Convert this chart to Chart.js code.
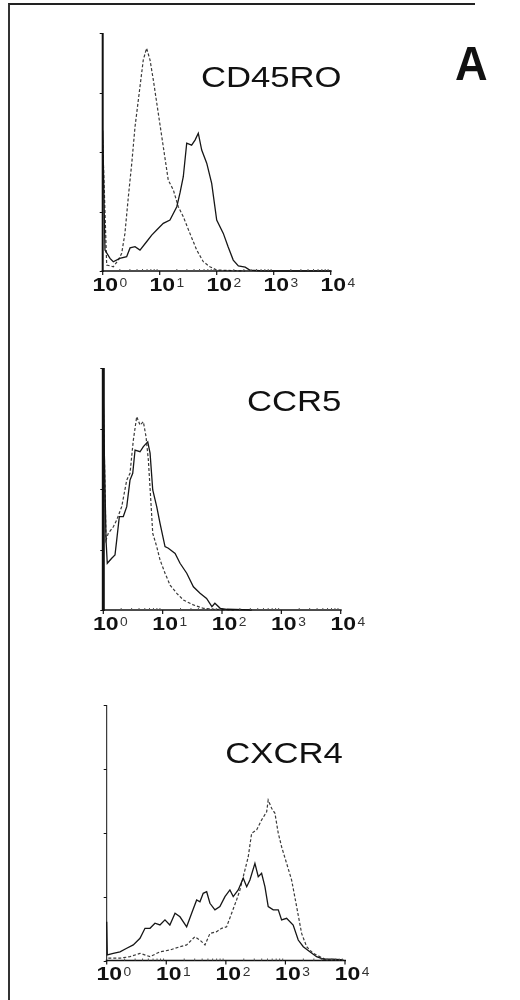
<!DOCTYPE html>
<html>
<head>
<meta charset="utf-8">
<script src="https://cdn.jsdelivr.net/npm/chart.js@4.4.1/dist/chart.umd.min.js"></script>
<style>
  html, body { margin: 0; padding: 0; background: #ffffff; }
  #page { position: relative; width: 520px; height: 1000px; overflow: hidden; background: #fff; }
  #frame { position: absolute; left: 8px; top: 3px; width: 465px; height: 1000px;
           border-top: 2px solid #222; border-left: 2px solid #333; }
  canvas { position: absolute; left: 0; }
</style>
</head>
<body>
<div id="page">
  <div id="frame"></div>
  <canvas id="c1" width="520" height="333" style="top:0px"></canvas>
  <canvas id="c2" width="520" height="333" style="top:333px"></canvas>
  <canvas id="c3" width="520" height="334" style="top:666px"></canvas>
</div>
<script>
// ---------- DATA (x = fluorescence in decades, log10; y = relative cell count, % of axis) ----------
const xTickBase = '10';
const xTickExponents = [0, 1, 2, 3, 4];
const yTickValues = [0, 25, 50, 75, 100];
const panelNames = ['CD45RO', 'CCR5', 'CXCR4'];
const panelLetter = 'A';
const seriesNames = ['Antibody', 'Isotype control'];

// CD45RO
const cd45roAbX = [0, .04, .128, .186, .30, .42, .48, .567, .654, .77, .86, .947, 1.063, 1.18, 1.30, 1.356, 1.414, 1.474, 1.56, 1.62, 1.677, 1.737, 1.825, 1.912, 2.0, 2.116, 2.20, 2.29, 2.38, 2.50, 2.58, 2.76, 3.0, 3.5, 4.0];
const cd45roAbY = [59, 8.8, 5.3, 3.9, 5.3, 6.0, 9.7, 10.2, 8.8, 12.3, 15.1, 17.2, 20.0, 21.4, 27.0, 32.8, 39.6, 53.7, 52.9, 55.0, 57.9, 50.8, 45.3, 36.8, 21.4, 15.8, 10.2, 4.6, 2.1, 1.6, 0.4, 0.1, 0, 0, 0];
const cd45roIsoX = [0, .07, .186, .274, .333, .39, .45, .51, .567, .654, .712, .77, .83, .888, .975, 1.063, 1.15, 1.24, 1.326, 1.414, 1.53, 1.65, 1.765, 1.88, 2.0, 2.5];
const cd45roIsoY = [55, 2.5, 1.8, 4.6, 7.4, 15.8, 31.2, 45.3, 60.6, 77.4, 88.7, 93.6, 88.7, 80.3, 66.3, 52.2, 38.2, 34.0, 27.0, 22.8, 15.8, 8.8, 3.9, 1.8, 0.4, 0];

// CCR5
const ccr5AbX = [0, .046, .067, .142, .197, .226, .27, .337, .395, .45, .496, .535, .619, .675, .749, .788, .833, .90, .956, 1.04, 1.096, 1.21, 1.293, 1.406, 1.518, 1.63, 1.74, 1.83, 1.88, 1.97, 2.08, 2.5];
const ccr5AbY = [87, 28.9, 19.3, 21.4, 22.7, 28.9, 38.6, 38.6, 42.7, 53.7, 56.5, 66.1, 65.4, 67.5, 69.5, 64.8, 49.6, 42.7, 35.8, 26.2, 25.5, 23.4, 19.3, 15.2, 9.6, 6.9, 4.8, 1.4, 2.8, 0.7, 0.3, 0];
const ccr5IsoX = [0, .046, .084, .169, .226, .31, .395, .45, .506, .563, .619, .675, .72, .759, .80, .833, .90, .956, 1.04, 1.125, 1.238, 1.35, 1.518, 1.686, 1.855, 2.2];
const ccr5IsoY = [87, 28.9, 31.7, 34.4, 37.2, 42.7, 53.7, 56.5, 70.2, 79.9, 76.4, 77.8, 71.6, 62.0, 45.5, 31.7, 26.2, 20.7, 15.2, 10.3, 6.9, 4.1, 2.1, 0.7, 0.3, 0];

// CXCR4
const cxcr4AbX = [0, .01, .11, .223, .336, .446, .559, .643, .727, .81, .894, .978, 1.06, 1.147, 1.23, 1.342, 1.426, 1.51, 1.565, 1.62, 1.678, 1.733, 1.817, 1.90, 1.985, 2.068, 2.124, 2.208, 2.292, 2.35, 2.404, 2.488, 2.544, 2.60, 2.656, 2.711, 2.795, 2.88, 2.936, 3.02, 3.13, 3.215, 3.30, 3.41, 3.523, 3.634, 3.80, 3.97];
const cxcr4AbY = [15.2, 2.2, 2.8, 3.4, 4.8, 6.1, 8.7, 12.6, 12.6, 14.6, 13.9, 15.9, 13.9, 18.5, 17.1, 13.2, 18.5, 23.7, 23.0, 26.3, 26.9, 22.4, 19.8, 21.1, 25.0, 27.6, 25.0, 27.6, 32.2, 28.9, 31.5, 38.0, 32.8, 34.1, 28.9, 21.1, 19.8, 19.8, 15.9, 16.5, 13.9, 8.0, 5.4, 3.4, 1.5, 0.5, 0.5, 0.2];
const cxcr4IsoX = [.027, .223, .39, .559, .727, .894, 1.06, 1.23, 1.342, 1.48, 1.565, 1.65, 1.733, 1.846, 1.93, 2.013, 2.097, 2.18, 2.236, 2.32, 2.376, 2.433, 2.517, 2.60, 2.685, 2.711, 2.768, 2.824, 2.88, 2.936, 3.02, 3.104, 3.188, 3.272, 3.356, 3.466, 3.58, 3.69, 4.0];
const cxcr4IsoY = [0.9, 0.9, 1.5, 2.8, 1.5, 3.4, 4.1, 5.4, 6.1, 9.3, 8.0, 6.1, 10.6, 11.3, 12.6, 13.2, 18.5, 23.7, 27.6, 35.4, 40.6, 49.8, 51.1, 55.0, 58.2, 62.8, 59.6, 57.6, 49.8, 44.5, 38.0, 31.5, 21.1, 10.6, 5.4, 2.8, 1.5, 0.2, 0];

// ---------- STYLE / LAYOUT ----------
const TEXT = '#111';
const FONT_FAMILY = 'Arial, "Liberation Sans", Helvetica, sans-serif';
function zip(xs, ys) { return xs.map((x, i) => ({ x: x, y: ys[i] })); }

function drawScaledText(ctx, text, x, y, font, sx, color) {
  ctx.save();
  ctx.font = font;
  ctx.fillStyle = color;
  ctx.textAlign = 'left';
  ctx.textBaseline = 'alphabetic';
  ctx.translate(x, y);
  ctx.scale(sx, 1);
  ctx.fillText(text, 0, 0);
  ctx.restore();
}

const axesPlugin = {
  id: 'facsAxes',
  afterDatasetsDraw(chart, args, o) {
    const ctx = chart.ctx;
    const xs = chart.scales.x, ys = chart.scales.y;
    const a = chart.chartArea;
    ctx.save();
    ctx.strokeStyle = '#111';
    // y axis
    ctx.lineWidth = o.yAxisWidth;
    ctx.beginPath();
    ctx.moveTo(a.left, a.bottom + 1);
    ctx.lineTo(a.left, ys.getPixelForValue(100));
    ctx.stroke();
    // y ticks (left)
    ctx.lineWidth = 1;
    yTickValues.forEach(v => {
      const py = Math.round(ys.getPixelForValue(v)) + 0.5;
      ctx.beginPath();
      ctx.moveTo(a.left - 3, py);
      ctx.lineTo(a.left, py);
      ctx.stroke();
    });
    // x axis
    ctx.lineWidth = o.xAxisWidth;
    ctx.beginPath();
    ctx.moveTo(a.left - 1, a.bottom);
    ctx.lineTo(a.right + 1, a.bottom);
    ctx.stroke();
    // x major ticks
    ctx.lineWidth = 1.2;
    xTickExponents.forEach(e => {
      const px = xs.getPixelForValue(e);
      ctx.beginPath();
      ctx.moveTo(px, a.bottom);
      ctx.lineTo(px, a.bottom + 4);
      ctx.stroke();
    });
    // x minor ticks
    ctx.lineWidth = 1;
    ctx.strokeStyle = '#555';
    for (let k = 0; k < 4; k++) {
      for (let m = 2; m <= 9; m++) {
        const px = xs.getPixelForValue(k + Math.log10(m));
        ctx.beginPath();
        ctx.moveTo(px, a.bottom);
        ctx.lineTo(px, a.bottom - 2);
        ctx.stroke();
      }
    }
    ctx.restore();

    // tick labels 10^k
    const digitFont = 'bold 18px ' + FONT_FAMILY;
    const supFont = '12px ' + FONT_FAMILY;
    const dsx = 1.28;
    ctx.save();
    ctx.font = digitFont;
    const w = ctx.measureText(xTickBase).width * dsx;
    ctx.restore();
    const base = a.bottom + 19.5;
    xTickExponents.forEach(e => {
      const px = xs.getPixelForValue(e) + 2.5;
      drawScaledText(ctx, xTickBase, px - w / 2, base, digitFont, dsx, TEXT);
      drawScaledText(ctx, String(e), px + w / 2 + 1.5, base - 4, supFont, 1.15, '#333');
    });

    // panel title
    drawScaledText(ctx, o.title, o.titleX, o.titleY, '30px ' + FONT_FAMILY, 1.155, TEXT);
    if (o.letter) {
      drawScaledText(ctx, o.letter, o.letterX, o.letterY, 'bold 48px ' + FONT_FAMILY, 0.94, TEXT);
    }
  }
};

function makePanel(id, abX, abY, isoX, isoY, pad, opts) {
  return new Chart(document.getElementById(id), {
    type: 'line',
    data: {
      datasets: [
        { label: seriesNames[0], data: zip(abX, abY), borderColor: '#161616', borderWidth: 1.3,
          pointRadius: 0, tension: 0, fill: false, clip: 6 },
        { label: seriesNames[1], data: zip(isoX, isoY), borderColor: '#3a3a3a', borderWidth: 1.2,
          borderDash: [3, 2], pointRadius: 0, tension: 0, fill: false, clip: 6 }
      ]
    },
    options: {
      responsive: false,
      animation: false,
      devicePixelRatio: 1,
      layout: { padding: pad },
      scales: {
        x: { type: 'linear', min: 0, max: 4, display: false },
        y: { type: 'linear', min: 0, max: 100, display: false }
      },
      plugins: {
        legend: { display: false },
        tooltip: { enabled: false },
        facsAxes: opts
      }
    },
    plugins: [axesPlugin]
  });
}

makePanel('c1', cd45roAbX, cd45roAbY, cd45roIsoX, cd45roIsoY,
  { left: 102.7, right: 189.3, top: 33, bottom: 62 },
  { title: panelNames[0], titleX: 201, titleY: 86.7, letter: panelLetter, letterX: 455, letterY: 80,
    yAxisWidth: 2, xAxisWidth: 1.5 });

makePanel('c2', ccr5AbX, ccr5AbY, ccr5IsoX, ccr5IsoY,
  { left: 103.3, right: 179.3, top: 35, bottom: 56 },
  { title: panelNames[1], titleX: 247, titleY: 78, yAxisWidth: 3, xAxisWidth: 1.5 });

makePanel('c3', cxcr4AbX, cxcr4AbY, cxcr4IsoX, cxcr4IsoY,
  { left: 106.7, right: 175, top: 39, bottom: 39.5 },
  { title: panelNames[2], titleX: 225.3, titleY: 97.3, yAxisWidth: 1, xAxisWidth: 1.5 });
</script>
</body>
</html>
